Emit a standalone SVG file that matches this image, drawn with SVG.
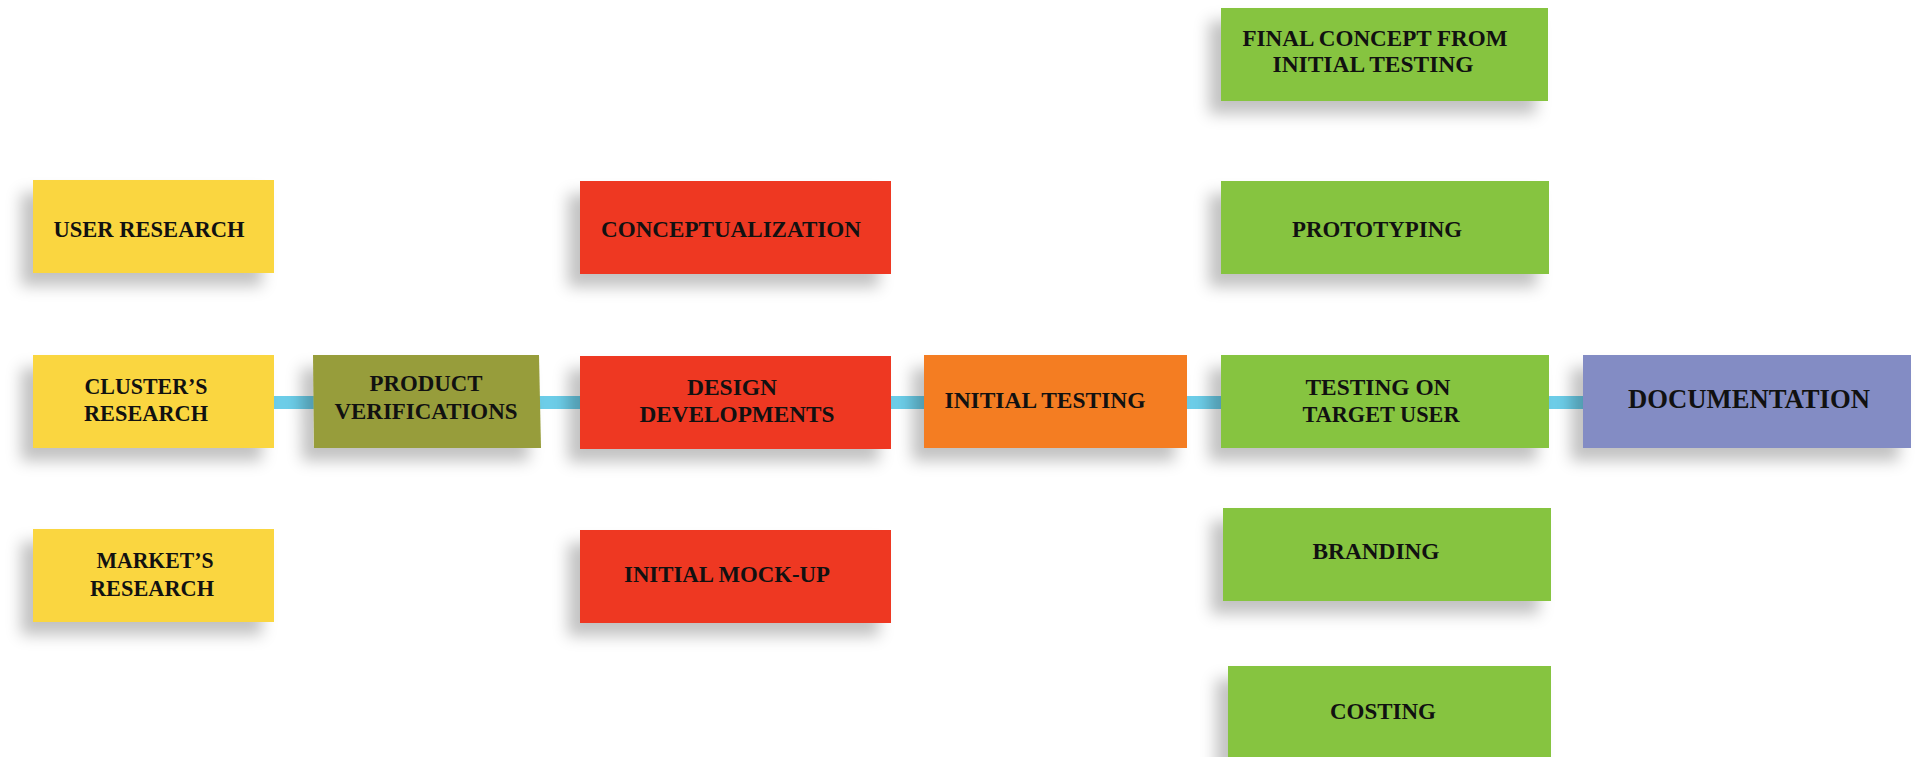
<svg xmlns="http://www.w3.org/2000/svg" width="1915" height="757" viewBox="0 0 1915 757">
<defs>
<filter id="sh" x="-25%" y="-40%" width="150%" height="190%">
<feDropShadow dx="-12" dy="13" stdDeviation="7.5" flood-color="#000" flood-opacity="0.24"/>
</filter>
</defs>
<style>
.t{font-family:"Liberation Serif","Times New Roman",serif;font-weight:bold;font-size:23.5px;fill:#111;text-anchor:middle}
.y{fill:#FAD640}.r{fill:#EE3724}.o{fill:#F47D20}.g{fill:#86C440}.ol{fill:#979D3A}.p{fill:#838CC4}
</style>
<rect width="1915" height="757" fill="#fff"/>
<g id="connectors">
<rect x="268" y="396" width="1320" height="13" fill="#6CCDE8"/>
</g>
<g id="user-research"><rect class="y" x="33" y="180" width="241" height="93" filter="url(#sh)"/><text class="t" x="149" y="237" textLength="191" lengthAdjust="spacingAndGlyphs">USER RESEARCH</text></g>
<g id="clusters-research"><rect class="y" x="33" y="355" width="241" height="93" filter="url(#sh)"/><text class="t" x="146" y="394" textLength="123" lengthAdjust="spacingAndGlyphs">CLUSTER’S</text><text class="t" x="146" y="421" textLength="124" lengthAdjust="spacingAndGlyphs">RESEARCH</text></g>
<g id="markets-research"><rect class="y" x="33" y="529" width="241" height="93" filter="url(#sh)"/><text class="t" x="155" y="568" textLength="117" lengthAdjust="spacingAndGlyphs">MARKET’S</text><text class="t" x="152" y="596" textLength="124" lengthAdjust="spacingAndGlyphs">RESEARCH</text></g>
<g id="product-verifications"><polygon class="ol" points="313,355 539,355 541,448 314,448" filter="url(#sh)"/><text class="t" x="426" y="391" textLength="113" lengthAdjust="spacingAndGlyphs">PRODUCT</text><text class="t" x="426" y="419" textLength="183" lengthAdjust="spacingAndGlyphs">VERIFICATIONS</text></g>
<g id="conceptualization"><rect class="r" x="580" y="181" width="311" height="93" filter="url(#sh)"/><text class="t" x="731" y="237" textLength="260" lengthAdjust="spacingAndGlyphs">CONCEPTUALIZATION</text></g>
<g id="design-developments"><rect class="r" x="580" y="356" width="311" height="93" filter="url(#sh)"/><text class="t" x="732" y="395" textLength="90" lengthAdjust="spacingAndGlyphs">DESIGN</text><text class="t" x="737" y="422" textLength="195" lengthAdjust="spacingAndGlyphs">DEVELOPMENTS</text></g>
<g id="initial-mock-up"><rect class="r" x="580" y="530" width="311" height="93" filter="url(#sh)"/><text class="t" x="727" y="582" textLength="206" lengthAdjust="spacingAndGlyphs">INITIAL MOCK-UP</text></g>
<g id="initial-testing"><rect class="o" x="924" y="355" width="263" height="93" filter="url(#sh)"/><text class="t" x="1045" y="408" textLength="201" lengthAdjust="spacingAndGlyphs">INITIAL TESTING</text></g>
<g id="final-concept"><rect class="g" x="1221" y="8" width="327" height="93" filter="url(#sh)"/><text class="t" x="1375" y="46" textLength="265" lengthAdjust="spacingAndGlyphs">FINAL CONCEPT FROM</text><text class="t" x="1373" y="72" textLength="201" lengthAdjust="spacingAndGlyphs">INITIAL TESTING</text></g>
<g id="prototyping"><rect class="g" x="1221" y="181" width="328" height="93" filter="url(#sh)"/><text class="t" x="1377" y="237" textLength="170" lengthAdjust="spacingAndGlyphs">PROTOTYPING</text></g>
<g id="testing-on-target-user"><rect class="g" x="1221" y="355" width="328" height="93" filter="url(#sh)"/><text class="t" x="1378" y="395" textLength="145" lengthAdjust="spacingAndGlyphs">TESTING ON</text><text class="t" x="1381" y="422" textLength="157" lengthAdjust="spacingAndGlyphs">TARGET USER</text></g>
<g id="branding"><rect class="g" x="1223" y="508" width="328" height="93" filter="url(#sh)"/><text class="t" x="1376" y="559" textLength="127" lengthAdjust="spacingAndGlyphs">BRANDING</text></g>
<g id="costing"><rect class="g" x="1228" y="666" width="323" height="100" filter="url(#sh)"/><text class="t" x="1383" y="719" textLength="106" lengthAdjust="spacingAndGlyphs">COSTING</text></g>
<g id="documentation"><rect class="p" x="1583" y="355" width="328" height="93" filter="url(#sh)"/><text class="t" x="1749" y="408" style="font-size:27px" textLength="242" lengthAdjust="spacingAndGlyphs">DOCUMENTATION</text></g>
</svg>
